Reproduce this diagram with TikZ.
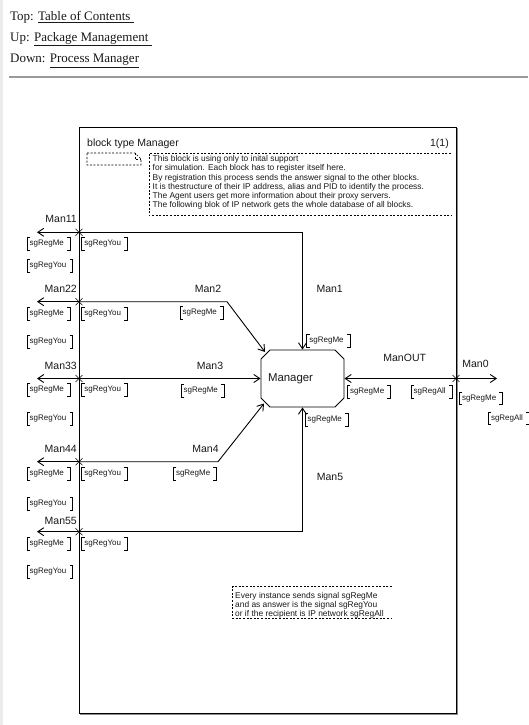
\documentclass[tikz,border=0pt]{standalone}
\usepackage{fontspec}
\setmainfont{Liberation Serif}
\newfontfamily\sansf{Liberation Sans}
\usetikzlibrary{arrows.meta,shapes.misc,calc}
\begin{document}
\begin{tikzpicture}[x=1pt,y=-1pt,
  every node/.style={inner sep=0pt, text=black!90},
  hdr/.style={font=\fontsize{13}{15}\selectfont, anchor=base west},
  lbl/.style={font=\sansf\fontsize{10.5}{12}\selectfont, anchor=base},
  sig/.style={font=\sansf\fontsize{8}{9}\selectfont, minimum height=12.5pt, inner xsep=2.5pt, anchor=west},
  cmt/.style={font=\sansf\fontsize{8.4}{9.2}\selectfont, align=left, anchor=north west},
  chan/.style={line width=0.9pt},
  arr/.style={-{Straight Barb[length=6pt,width=8pt]}},
  dsh/.style={dash pattern=on 2pt off 1.6pt, line width=0.6pt},
  brk/.style={line width=0.6pt},
  xmark/.style={line width=0.6pt}
]
\useasboundingbox (0,0) rectangle (528,725);
\fill[white] (0,0) rectangle (528,725);
\fill[black!8] (0,0) rectangle (2.5,725);

% header
\node[hdr] (top)  at (10,20.7) {Top: \underline{Table of Contents\ }};
\node[hdr] (up)   at (10,41.2) {Up: \underline{Package Management\ }};
\node[hdr] (down) at (10,62.5) {Down: \underline{Process Manager}};
\draw[line width=2pt, black!40] (9,77.3) -- (528,77.3);

% frame
\node[draw, line width=1pt, minimum width=377pt, minimum height=586pt, anchor=north west] (frame) at (79,127) {};
\draw[line width=1pt, black!45] (457,128) -- (457,714) -- (80,714);

\node[lbl, anchor=base west] (btitle) at (87,146) {block type Manager};
\node[lbl, anchor=base east] (page) at (449,146) {1(1)};

% text symbol
\draw[dsh] (87,153) -- (135,153) -- (141,159) -- (141,165) -- (87,165) -- cycle;
\draw[dsh] (135,153) -- (135,159) -- (141,159);

% top comment
\draw[dsh] (451,153.3) -- (149,153.3) -- (149,215.5) -- (451,215.5);
\node[cmt] (cmtop) at (152.5,155.5) {This block is using only to inital support\\
for simulation. Each block has to register itself here.\\
By registration this process sends the answer signal to the other blocks.\\
It is thestructure of their IP address, alias and PID to identify the process.\\
The Agent users get more information about their proxy servers.\\
The following blok of IP network gets the whole database of all blocks.};

% bottom comment
\draw[dsh] (392,586.5) -- (232.7,586.5) -- (232.7,618.5) -- (392,618.5);
\node[cmt] (cmbot) at (235,592.3) {Every instance sends signal sgRegMe\\
and as answer is the signal sgRegYou\\
or if the recipient is IP network sgRegAll};

% process
\node[chamfered rectangle, chamfered rectangle xsep=4.5pt, chamfered rectangle ysep=4.5pt,
      draw, line width=0.9pt, minimum width=83pt, minimum height=57pt,
      font=\sansf\fontsize{11.4}{13}\selectfont] (mgr) at (302.5,378.5) {Manager\kern24pt};

% junctions and ends
\coordinate (j11) at (79,232.3);
\coordinate (j22) at (79,301.7);
\coordinate (j33) at (79,378.5);
\coordinate (j44) at (79,461.7);
\coordinate (j55) at (79,531.7);
\coordinate (jout) at (456,378.5);
\coordinate (e11) at (37,232.3);
\coordinate (e22) at (37,301.7);
\coordinate (e33) at (37,378.5);
\coordinate (e44) at (37,461.7);
\coordinate (e55) at (37,531.7);
\coordinate (e0) at (497,378.5);
\coordinate (b2) at (227,301.7);
\coordinate (b4) at (218,461.7);
\path (mgr.center) ++(-37.5,-26.5) coordinate (m2in);
\path (mgr.center) ++(-38.5,25) coordinate (m4in);

% channels
\draw[chan,arr] (j11) -| (mgr.north);
\draw[chan,arr] (j22) -- (b2) -- (m2in);
\draw[chan,arr] (j33) -- (mgr.west);
\draw[chan,arr] (j44) -- (b4) -- (m4in);
\draw[chan,arr] (j55) -| (mgr.south);
\draw[chan,arr] (jout) -- (mgr.east);
\foreach \a/\b in {j11/e11,j22/e22,j33/e33,j44/e44,j55/e55,jout/e0}
  \draw[chan,arr] (\a) -- (\b);
\foreach \j in {j11,j22,j33,j44,j55,jout}
  \draw[xmark] ([shift={(-3.5,-3.5)}]\j) -- ([shift={(3.5,3.5)}]\j)
               ([shift={(-3.5,3.5)}]\j) -- ([shift={(3.5,-3.5)}]\j);

% channel labels
\node[lbl, anchor=base east] (l11) at (77,222) {Man11};
\node[lbl, anchor=base east] (l22) at (77,292) {Man22};
\node[lbl, anchor=base east] (l33) at (77,369) {Man33};
\node[lbl, anchor=base east] (l44) at (77,452.5) {Man44};
\node[lbl, anchor=base east] (l55) at (77,524) {Man55};
\node[lbl] (l2) at (208,292) {Man2};
\node[lbl] (l1) at (329.7,292) {Man1};
\node[lbl] (l3) at (210,369) {Man3};
\node[lbl] (l4) at (205.5,452.5) {Man4};
\node[lbl] (l5) at (330,480) {Man5};
\node[lbl] (lout) at (404.7,361.7) {ManOUT};
\node[lbl] (l0) at (475.5,367.3) {Man0};

% signal lists
\foreach \nm/\x/\y/\t in {
  s11a/27/244/sgRegMe, s11b/27/266/sgRegYou, s11c/81.7/244/sgRegYou,
  s22a/27/313.5/sgRegMe, s22b/27/342/sgRegYou, s22c/81.7/313.5/sgRegYou,
  s33a/27/389.5/sgRegMe, s33b/27/419/sgRegYou, s33c/81.7/389.5/sgRegYou,
  s44a/27/473.5/sgRegMe, s44b/27/503.5/sgRegYou, s44c/81.7/473.5/sgRegYou,
  s55a/27/543.7/sgRegMe, s55b/27/572/sgRegYou, s55c/81.7/543.7/sgRegYou,
  s2/180/312.5/sgRegMe, s1/306.7/341/sgRegMe, s3/181/391/sgRegMe,
  s4/173.3/473.5/sgRegMe, s5/305/419.5/sgRegMe,
  so1/347.3/391.7/sgRegMe, so2/411/391.7/sgRegAll,
  s0a/459.3/398.3/sgRegMe, s0b/488.3/418.3/sgRegAll}
{
  \node[sig] (\nm) at (\x,\y) {\t\kern3.5pt};
  \draw[brk] ([xshift=3pt]\nm.north west) -- (\nm.north west) -- (\nm.south west) -- ([xshift=3pt]\nm.south west)
             ([xshift=-3pt]\nm.north east) -- (\nm.north east) -- (\nm.south east) -- ([xshift=-3pt]\nm.south east);
}
\end{tikzpicture}
\end{document}
